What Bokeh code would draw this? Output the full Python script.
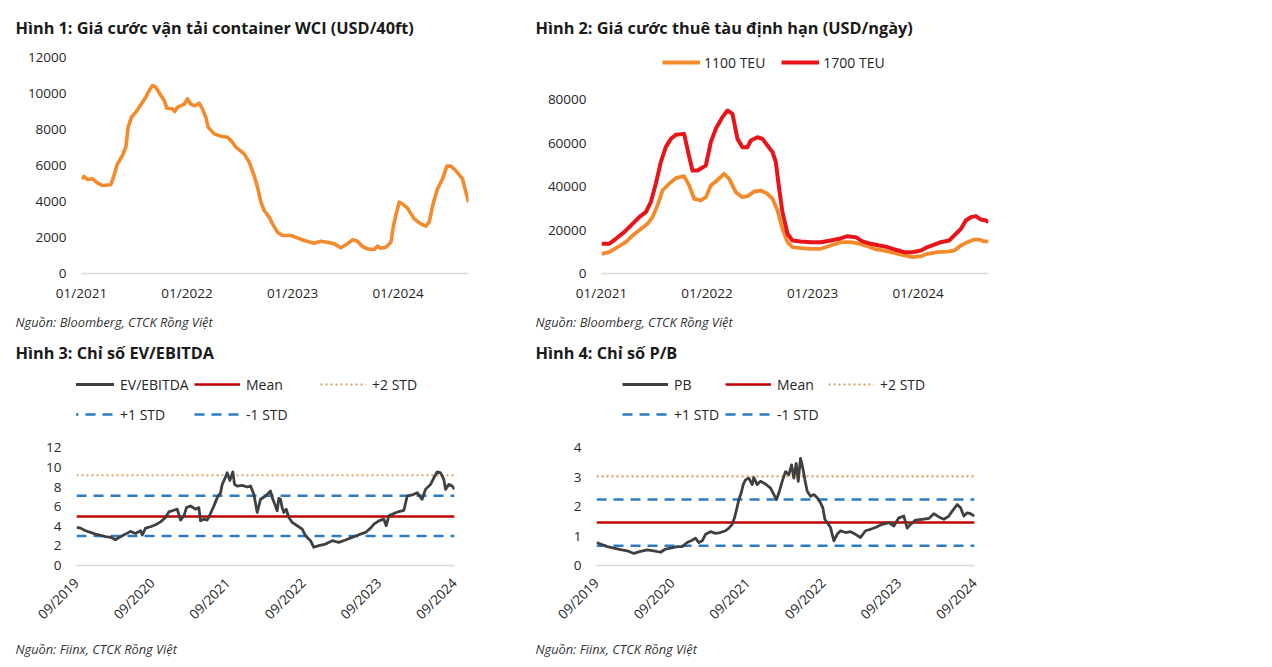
import math
from bokeh.plotting import figure
from bokeh.models import Range1d, FixedTicker, Legend, LegendItem, Title
from bokeh.layouts import row, column
from bokeh.embed import file_html
from bokeh.resources import INLINE

# ---------------- data ----------------
# Figure 1: WCI container freight rate (USD/40ft), time in decimal years
wci_t = [2021.000, 2021.025, 2021.057, 2021.104, 2021.151, 2021.199, 2021.278, 2021.303, 2021.341, 2021.388,
         2021.420, 2021.442, 2021.474, 2021.515, 2021.562, 2021.609, 2021.641, 2021.673, 2021.704, 2021.752,
         2021.783, 2021.809, 2021.862, 2021.884, 2021.910, 2021.973, 2022.004, 2022.036, 2022.074, 2022.115,
         2022.147, 2022.178, 2022.200, 2022.257, 2022.320, 2022.384, 2022.431, 2022.463, 2022.542, 2022.589,
         2022.636, 2022.668, 2022.700, 2022.731, 2022.778, 2022.810, 2022.858, 2022.905, 2022.984, 2023.047,
         2023.110, 2023.205, 2023.268, 2023.331, 2023.395, 2023.458, 2023.505, 2023.568, 2023.616, 2023.663,
         2023.711, 2023.774, 2023.805, 2023.837, 2023.884, 2023.932, 2023.957, 2023.979, 2024.011, 2024.042,
         2024.090, 2024.153, 2024.216, 2024.264, 2024.295, 2024.336, 2024.374, 2024.422, 2024.463, 2024.501,
         2024.548, 2024.611, 2024.643, 2024.668]
wci_v = [5261, 5389, 5222, 5260, 5039, 4889, 4930, 5352, 6094, 6556,
         7017, 8130, 8685, 8963, 9370, 9796, 10167, 10444, 10350, 9889,
         9630, 9185, 9150, 9000, 9240, 9400, 9704, 9407, 9315, 9463,
         9130, 8685, 8130, 7759, 7630, 7574, 7296, 7019, 6648, 6185,
         5444, 4796, 3963, 3500, 3130, 2759, 2296, 2111, 2111, 1981,
         1833, 1685, 1796, 1741, 1648, 1426, 1593, 1870, 1796, 1500,
         1370, 1333, 1519, 1407, 1463, 1741, 2667, 3222, 3963, 3870,
         3630, 3037, 2759, 2630, 2852, 3963, 4704, 5261, 5963, 5963,
         5722, 5261, 4519, 3963]

# Figure 2: time-charter rates (USD/day)
teu1700_t = [2021.000, 2021.072, 2021.136, 2021.215, 2021.294, 2021.357, 2021.420, 2021.467, 2021.515, 2021.562,
             2021.609, 2021.657, 2021.704, 2021.783, 2021.821, 2021.862, 2021.910, 2021.989, 2022.036, 2022.083,
             2022.147, 2022.194, 2022.241, 2022.289, 2022.336, 2022.384, 2022.415, 2022.478, 2022.526, 2022.573,
             2022.621, 2022.652, 2022.684, 2022.715, 2022.763, 2022.810, 2022.889, 2022.984, 2023.079, 2023.173,
             2023.252, 2023.331, 2023.410, 2023.474, 2023.553, 2023.632, 2023.711, 2023.790, 2023.869, 2023.948,
             2024.027, 2024.090, 2024.153, 2024.216, 2024.295, 2024.343, 2024.406, 2024.453, 2024.501, 2024.548,
             2024.596, 2024.643, 2024.668]
teu1700_v = [13650, 13650, 15950, 19000, 22850, 25900, 28200, 32800, 41250, 51200,
             58100, 61900, 63750, 64200, 55800, 47350, 47350, 49650, 60400, 66500,
             71900, 74950, 73400, 61900, 58100, 58100, 61150, 62650, 61900, 58850,
             55800, 51200, 38950, 28200, 18250, 15200, 14750, 14400, 14400, 15200,
             15950, 17150, 16700, 14750, 13650, 12850, 12150, 10900, 9800, 9800,
             10550, 12150, 13250, 14400, 15200, 17450, 20500, 24350, 25900, 26400,
             24800, 24350, 23600]
teu1100_t = [2021.000, 2021.072, 2021.151, 2021.230, 2021.294, 2021.373, 2021.436, 2021.483, 2021.530, 2021.578,
             2021.641, 2021.704, 2021.783, 2021.831, 2021.878, 2021.941, 2021.989, 2022.036, 2022.083, 2022.162,
             2022.210, 2022.273, 2022.336, 2022.384, 2022.447, 2022.510, 2022.573, 2022.621, 2022.668, 2022.715,
             2022.763, 2022.810, 2022.889, 2022.984, 2023.079, 2023.173, 2023.268, 2023.363, 2023.426, 2023.505,
             2023.584, 2023.679, 2023.774, 2023.869, 2023.948, 2024.027, 2024.090, 2024.184, 2024.279, 2024.343,
             2024.406, 2024.469, 2024.532, 2024.580, 2024.627, 2024.668]
teu1100_v = [9050, 9800, 12150, 14400, 17450, 20500, 22850, 25900, 31250, 38150,
             41250, 43850, 44750, 40450, 34350, 33600, 35100, 40450, 42300, 45850,
             43500, 37400, 35100, 35550, 37700, 38150, 36650, 34350, 29000, 20500,
             14400, 12150, 11650, 11350, 11350, 12850, 14400, 14400, 13900, 12850,
             11350, 10550, 9500, 8300, 7500, 7950, 9050, 9800, 10100, 10550,
             12850, 14400, 15600, 15600, 14750, 14750]

# Figure 3: EV/EBITDA
ev_t = [2019.667, 2019.720, 2019.786, 2019.852, 2019.918, 2019.984, 2020.051, 2020.117, 2020.183, 2020.249,
        2020.315, 2020.381, 2020.447, 2020.514, 2020.536, 2020.580, 2020.646, 2020.712, 2020.778, 2020.844,
        2020.888, 2020.954, 2020.999, 2021.043, 2021.087, 2021.122, 2021.175, 2021.241, 2021.285, 2021.307,
        2021.351, 2021.395, 2021.439, 2021.484, 2021.528, 2021.572, 2021.594, 2021.625, 2021.660, 2021.695,
        2021.735, 2021.757, 2021.792, 2021.858, 2021.925, 2021.969, 2022.013, 2022.057, 2022.101, 2022.167,
        2022.211, 2022.233, 2022.264, 2022.290, 2022.321, 2022.343, 2022.365, 2022.387, 2022.409, 2022.440,
        2022.476, 2022.520, 2022.586, 2022.652, 2022.696, 2022.762, 2022.806, 2022.872, 2022.961, 2023.049,
        2023.137, 2023.225, 2023.313, 2023.402, 2023.490, 2023.556, 2023.600, 2023.666, 2023.732, 2023.763,
        2023.798, 2023.864, 2023.931, 2023.997, 2024.041, 2024.107, 2024.173, 2024.239, 2024.283, 2024.350,
        2024.394, 2024.438, 2024.482, 2024.526, 2024.548, 2024.592, 2024.636, 2024.667]
ev_v = [3.88, 3.81, 3.54, 3.37, 3.20, 3.07, 2.94, 2.87, 2.63, 2.94,
        3.20, 3.48, 3.27, 3.54, 3.10, 3.81, 3.95, 4.15, 4.45, 4.89,
        5.47, 5.63, 5.74, 4.62, 5.06, 5.90, 6.07, 5.74, 5.90, 4.55,
        4.72, 4.62, 5.30, 6.07, 6.92, 7.42, 8.27, 8.77, 9.45, 8.67,
        9.55, 8.27, 8.10, 8.16, 8.00, 8.10, 7.25, 5.40, 6.75, 7.08,
        7.42, 7.59, 6.75, 6.24, 5.57, 6.85, 6.75, 5.90, 5.40, 5.74,
        4.89, 4.39, 4.05, 3.71, 3.04, 2.53, 1.86, 2.02, 2.19, 2.53,
        2.36, 2.60, 2.87, 3.14, 3.37, 3.81, 4.22, 4.55, 4.72, 4.05,
        5.06, 5.30, 5.50, 5.63, 7.08, 7.19, 7.42, 6.75, 7.76, 8.27,
        8.94, 9.55, 9.45, 8.77, 7.76, 8.27, 8.10, 7.76]
ev_mean, ev_p1, ev_m1, ev_p2 = 5.0, 7.1, 3.0, 9.2

# Figure 4: P/B
pb_t = [2019.667, 2019.720, 2019.808, 2019.896, 2019.984, 2020.073, 2020.161, 2020.249, 2020.337, 2020.425,
        2020.514, 2020.580, 2020.646, 2020.734, 2020.800, 2020.866, 2020.932, 2020.976, 2021.021, 2021.065,
        2021.109, 2021.175, 2021.241, 2021.307, 2021.373, 2021.417, 2021.461, 2021.492, 2021.519, 2021.550,
        2021.581, 2021.607, 2021.638, 2021.682, 2021.726, 2021.748, 2021.792, 2021.836, 2021.902, 2021.969,
        2022.013, 2022.048, 2022.079, 2022.123, 2022.167, 2022.211, 2022.246, 2022.277, 2022.308, 2022.335,
        2022.365, 2022.396, 2022.423, 2022.454, 2022.498, 2022.542, 2022.586, 2022.630, 2022.661, 2022.687,
        2022.718, 2022.762, 2022.806, 2022.850, 2022.895, 2022.961, 2023.027, 2023.093, 2023.159, 2023.225,
        2023.291, 2023.357, 2023.446, 2023.534, 2023.600, 2023.666, 2023.732, 2023.776, 2023.820, 2023.887,
        2023.975, 2024.063, 2024.129, 2024.195, 2024.261, 2024.328, 2024.372, 2024.438, 2024.482, 2024.526,
        2024.570, 2024.614, 2024.667]
pb_v = [0.78, 0.73, 0.64, 0.59, 0.54, 0.50, 0.41, 0.48, 0.53, 0.50,
        0.45, 0.56, 0.59, 0.64, 0.64, 0.78, 0.86, 0.93, 0.78, 0.84,
        1.06, 1.15, 1.09, 1.12, 1.18, 1.27, 1.40, 1.62, 1.90, 2.24,
        2.47, 2.75, 2.91, 2.97, 2.75, 2.99, 2.75, 2.86, 2.77, 2.63,
        2.41, 2.24, 2.47, 2.86, 3.19, 3.08, 3.42, 2.97, 3.47, 2.86,
        3.64, 3.31, 2.91, 2.52, 2.35, 2.41, 2.30, 2.13, 1.96, 1.57,
        1.46, 1.29, 0.84, 1.06, 1.18, 1.12, 1.15, 1.06, 0.95, 1.18,
        1.23, 1.29, 1.40, 1.46, 1.34, 1.62, 1.68, 1.27, 1.40, 1.54,
        1.57, 1.60, 1.76, 1.65, 1.57, 1.68, 1.85, 2.07, 1.96, 1.68,
        1.79, 1.76, 1.68]
pb_mean, pb_p1, pb_m1, pb_p2 = 1.46, 2.245, 0.675, 3.03

# tick labels
ticks_a = [2021, 2022, 2023, 2024]
labels_a = ["01/2021", "01/2022", "01/2023", "01/2024"]
ticks_b = [2019 + 8 / 12, 2020 + 8 / 12, 2021 + 8 / 12, 2022 + 8 / 12, 2023 + 8 / 12, 2024 + 8 / 12]
labels_b = ["09/2019", "09/2020", "09/2021", "09/2022", "09/2023", "09/2024"]

titles = ["Hình 1: Giá cước vận tải container WCI (USD/40ft)",
          "Hình 2: Giá cước thuê tàu định hạn (USD/ngày)",
          "Hình 3: Chỉ số EV/EBITDA",
          "Hình 4: Chỉ số P/B"]
sources = ["Nguồn: Bloomberg, CTCK Rồng Việt", "Nguồn: Bloomberg, CTCK Rồng Việt",
           "Nguồn: Fiinx, CTCK Rồng Việt", "Nguồn: Fiinx, CTCK Rồng Việt"]

# ---------------- styling ----------------
FONT = "Open Sans"
TXT = "#262626"
ORANGE = "#F38A2C"
RED = "#E8141A"
DARK = "#404040"
MEAN_C = "#C00000"
DOT_C = "#DDA066"
BLUE = "#2E7CC0"


def make_fig(width, height, left, right, top, bottom, xr, yr, yticks, xticks, xlabels, rotate):
    p = figure(width=width, height=height, x_range=xr, y_range=yr,
               output_backend="svg", toolbar_location=None, title=None,
               min_border_left=left, min_border_right=right,
               min_border_top=top, min_border_bottom=bottom)
    p.outline_line_color = None
    p.grid.visible = False
    p.background_fill_color = "white"
    p.border_fill_color = "white"
    ya = p.yaxis[0]
    ya.ticker = FixedTicker(ticks=yticks)
    ya.axis_line_color = None
    ya.major_tick_line_color = None
    ya.minor_tick_line_color = None
    ya.major_label_text_font = FONT
    ya.major_label_text_font_size = "13.5px"
    ya.major_label_text_color = TXT
    ya.major_label_standoff = 9
    xa = p.xaxis[0]
    xa.ticker = FixedTicker(ticks=xticks)
    xa.major_label_overrides = {t: l for t, l in zip(xticks, xlabels)}
    xa.axis_line_color = "#D9D9D9"
    xa.axis_line_width = 1.5
    xa.major_tick_line_color = None
    xa.minor_tick_line_color = None
    xa.major_label_text_font = FONT
    xa.major_label_text_font_size = "13.5px"
    xa.major_label_text_color = TXT
    xa.major_label_standoff = 4
    if rotate:
        xa.major_label_orientation = math.pi / 4
        xa.major_label_standoff = 9
    return p


def add_texts(p, title, source, offset, title_standoff, source_standoff):
    p.add_layout(Title(text=title, align="left", offset=offset, standoff=title_standoff,
                       text_font=FONT, text_font_size="16.3px", text_font_style="bold",
                       text_color="#1A1A1A"), "above")
    p.add_layout(Title(text=source, align="left", offset=offset, standoff=source_standoff,
                       text_font=FONT, text_font_size="12.8px", text_font_style="italic",
                       text_color="#333333"), "below")


# ---- Figure 1 ----
p1 = make_fig(520, 338, 81, 52, 50, 65, Range1d(2021.0, 2024.668), Range1d(0, 12389),
              [0, 2000, 4000, 6000, 8000, 10000, 12000], ticks_a, labels_a, False)
p1.line(wci_t, wci_v, line_color=ORANGE, line_width=3.6, line_join="round")
add_texts(p1, titles[0], sources[0], -66, 24, 13)

# ---- Figure 2 ----
p2 = make_fig(520, 338, 81, 52, 50, 65, Range1d(2021.0, 2024.668), Range1d(0, 102529),
              [0, 20000, 40000, 60000, 80000], ticks_a, labels_a, False)
r11 = p2.line(teu1100_t, teu1100_v, line_color=ORANGE, line_width=3.8, line_join="round")
r17 = p2.line(teu1700_t, teu1700_v, line_color=RED, line_width=4.0, line_join="round")
leg2 = Legend(items=[LegendItem(label="1100 TEU", renderers=[r11]),
                     LegendItem(label="1700 TEU", renderers=[r17])],
              location=(61, 201), orientation="horizontal",
              glyph_width=38, glyph_height=20, label_height=20, label_standoff=4,
              spacing=16, padding=0, margin=0,
              border_line_color=None, background_fill_alpha=0,
              label_text_font=FONT, label_text_font_size="14px", label_text_color=TXT)
p2.add_layout(leg2, "center")
add_texts(p2, titles[1], sources[1], -66, 24, 13)


def valuation_fig(t, v, mean, p1v, m1v, p2v, ytop, yticks, name, legx, label_w):
    p = make_fig(520, 329, 76, 66, 25, 102, Range1d(ticks_b[0], ticks_b[-1]), Range1d(0, ytop),
                 yticks, ticks_b, labels_b, True)
    span = [t[0], t[-1]]
    r_p2 = p.line(span, [p2v, p2v], line_color=DOT_C, line_width=2.2, line_dash="2 3")
    r_p1 = p.line(span, [p1v, p1v], line_color=BLUE, line_width=2.5, line_dash="10 7")
    r_m1 = p.line(span, [m1v, m1v], line_color=BLUE, line_width=2.5, line_dash="10 7")
    r_mean = p.line(span, [mean, mean], line_color=MEAN_C, line_width=2.5)
    r_main = p.line(t, v, line_color=DARK, line_width=2.8, line_join="round")
    leg = Legend(items=[LegendItem(label=name, renderers=[r_main]),
                        LegendItem(label="Mean", renderers=[r_mean]),
                        LegendItem(label="+2 STD", renderers=[r_p2]),
                        LegendItem(label="+1 STD", renderers=[r_p1]),
                        LegendItem(label="-1 STD", renderers=[r_m1])],
                 location=(legx, 136), orientation="horizontal", ncols=3,
                 glyph_width=46, glyph_height=30, label_height=30, label_width=label_w,
                 label_standoff=6, spacing=0, padding=0, margin=0,
                 border_line_color=None, background_fill_alpha=0,
                 label_text_font=FONT, label_text_font_size="14px", label_text_color=TXT)
    p.add_layout(leg, "center")
    return p


p3 = valuation_fig(ev_t, ev_v, ev_mean, ev_p1, ev_m1, ev_p2, 20.49, [0, 2, 4, 6, 8, 10, 12],
                   "EV/EBITDA", -8, 74)
add_texts(p3, titles[2], sources[2], -61, 2, 10)
p4 = valuation_fig(pb_t, pb_v, pb_mean, pb_p1, pb_m1, pb_p2, 6.83, [0, 1, 2, 3, 4],
                   "PB", 26, 51)
add_texts(p4, titles[3], sources[3], -61, 2, 10)

layout = column(row(p1, p2), row(p3, p4))
open("out.html", "w").write(file_html(layout, INLINE))
